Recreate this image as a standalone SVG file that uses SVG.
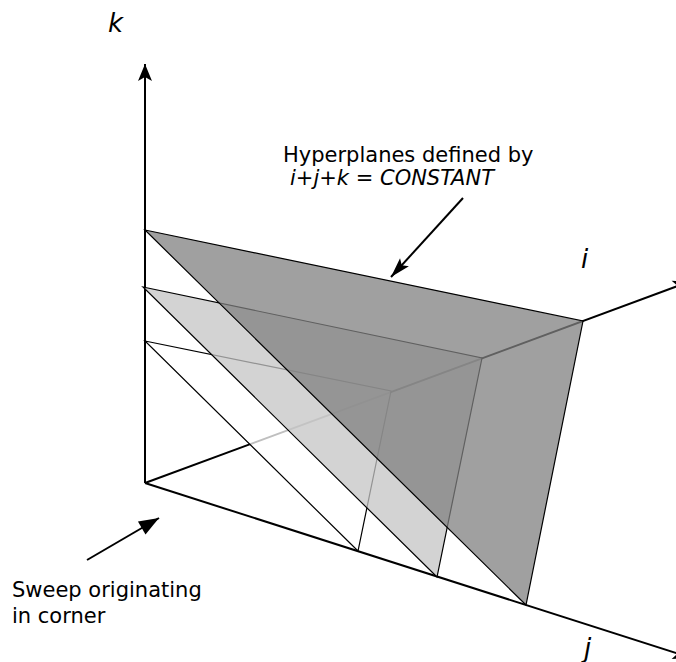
<svg xmlns="http://www.w3.org/2000/svg" width="676" height="662" viewBox="0 0 676 662">
<style>
.axis{stroke:#000;stroke-width:2;fill:none}
.plane{stroke:#000;stroke-width:1.2;fill-opacity:0.75;stroke-linejoin:miter}
.lbl{font-family:"DejaVu Sans",Verdana,sans-serif;font-style:italic;font-size:26px;fill:#000}
.txt{font-family:"DejaVu Sans",Verdana,sans-serif;font-size:21px;fill:#000}
.it{font-style:italic}
.ann{stroke:#000;stroke-width:2;fill:none}
</style>
<defs>
<marker id="ah" markerUnits="userSpaceOnUse" markerWidth="24" markerHeight="20" viewBox="-20 -10 24 20" refX="0" refY="0" orient="auto">
<path d="M0,0 L-17,-7 L-13,0 L-17,7 z" fill="#000"/>
</marker>
<marker id="ah2" markerUnits="userSpaceOnUse" markerWidth="26" markerHeight="20" viewBox="-22 -10 26 20" refX="0" refY="0" orient="auto">
<path d="M0,0 L-20,-6 L-16,0 L-20,6 z" fill="#000"/>
</marker>
<marker id="ah3" markerUnits="userSpaceOnUse" markerWidth="26" markerHeight="20" viewBox="-22 -10 26 20" refX="0" refY="0" orient="auto">
<path d="M0,0 L-20,-7.5 L-20,7.5 z" fill="#000"/>
</marker>
</defs>
<g id="axes">
<line class="axis" x1="145" y1="483" x2="145" y2="64" marker-end="url(#ah)"/>
<line class="axis" x1="145" y1="483" x2="690" y2="281.5" marker-end="url(#ah)"/>
<line class="axis" x1="145" y1="483" x2="690" y2="657.5" marker-end="url(#ah)"/>
</g>
<g id="plane-small">
<polygon class="plane" points="145,341 391,391 358,551" fill="#ffffff"/>
</g>
<g id="plane-medium">
<polygon class="plane" points="143,287 482,358 437,577" fill="#c4c4c4"/>
</g>
<g id="plane-large">
<polygon class="plane" points="145,230 583,321 526,605" fill="#808080"/>
</g>
<g id="labels">
<text class="lbl" x="108" y="32">k</text>
<text class="lbl" x="581" y="268">i</text>
<text class="lbl" x="584" y="657">j</text>
</g>
<g id="annotation-hyperplanes">
<text class="txt" x="283" y="162">Hyperplanes defined by</text>
<text class="txt it" x="290" y="185">i+j+k = CONSTANT</text>
</g>
<g id="annotation-sweep">
<text class="txt" x="12" y="597">Sweep originating</text>
<text class="txt" x="12" y="623">in corner</text>
</g>
<g id="connectors">
<line class="ann" x1="463" y1="198" x2="391" y2="277" marker-end="url(#ah2)"/>
<line class="ann" x1="87" y1="560" x2="159" y2="518" marker-end="url(#ah3)"/>
</g>
</svg>
